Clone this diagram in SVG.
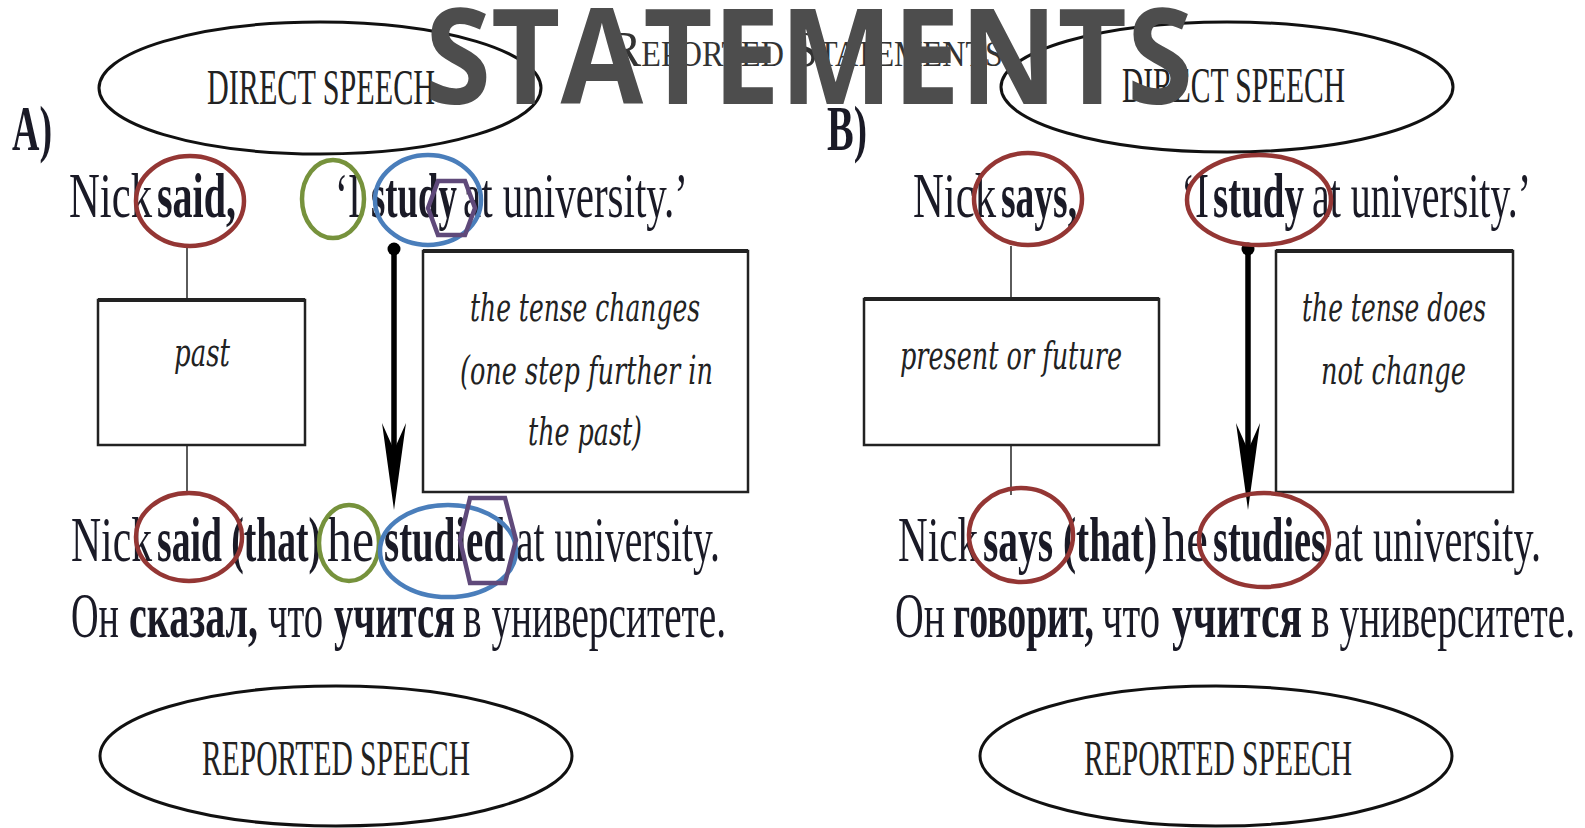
<svg xmlns="http://www.w3.org/2000/svg" width="1585" height="828" viewBox="0 0 1585 828">
<style>
.s{font-family:"Liberation Serif","Times New Roman",serif;fill:#1a1a26;font-size:64px}
.b{font-weight:bold}
.it{font-family:"DejaVu Serif","Liberation Serif",serif;font-style:italic;fill:#222;font-size:40px}
.cap{font-family:"Liberation Serif","Times New Roman",serif;fill:#222;font-size:50px}
.ell{fill:none;stroke:#111;stroke-width:3}
.box{fill:#fff;stroke:#222;stroke-width:2.5}
.red{fill:none;stroke:#943634;stroke-width:4.5}
.grn{fill:none;stroke:#76923c;stroke-width:4.5}
.blu{fill:none;stroke:#4a7ebb;stroke-width:4.5}
.pur{fill:none;stroke:#5f497a;stroke-width:4.5}
.thin{stroke:#333;stroke-width:1.6;fill:none}
.thick{stroke:#000;stroke-width:5.5;fill:none}
</style>
<rect width="1585" height="828" fill="#fff"/>

<g id="connectors">
  <line class="thin" x1="187" y1="247" x2="187" y2="495"/>
  <path d="M187,314 L194,329 L187,344 L180,329 Z" fill="#000"/>
  <path d="M187,410 L194,425 L187,440 L180,425 Z" fill="#000"/>
  <line class="thin" x1="1011" y1="246" x2="1011" y2="495"/>
  <path d="M1011,308 L1018,323 L1011,338 L1004,323 Z" fill="#000"/>
  <path d="M1011,377 L1018,392 L1011,407 L1004,392 Z" fill="#000"/>
  <line class="thick" x1="394" y1="248" x2="394" y2="480"/>
  <circle cx="394" cy="249" r="6.5" fill="#000"/>
  <path d="M382,423 L394,510 L406,423 L394,450 Z" fill="#000"/>
  <line class="thick" x1="1248" y1="248" x2="1248" y2="480"/>
  <circle cx="1248" cy="249" r="6.5" fill="#000"/>
  <path d="M1236,423 L1248,510 L1260,423 L1248,450 Z" fill="#000"/>
</g>

<g id="ellipse-direct-a">
  <ellipse class="ell" cx="320" cy="88" rx="221" ry="66"/>
  <text class="cap" x="207" y="104" textLength="228" lengthAdjust="spacingAndGlyphs">DIRECT SPEECH</text>
</g>
<g id="ellipse-direct-b">
  <ellipse class="ell" cx="1227" cy="87" rx="226" ry="65"/>
  <text class="cap" x="1122" y="102" textLength="223" lengthAdjust="spacingAndGlyphs">DIRECT SPEECH</text>
</g>
<g id="subtitle">
  <text x="610" y="66" font-family="Liberation Serif, serif" fill="#333" font-size="35" textLength="393" lengthAdjust="spacingAndGlyphs"><tspan font-size="51">R</tspan>EPORTED <tspan font-size="51">S</tspan>TATEMENTS</text>
</g>
<g id="labels">
  <text class="s b" x="12" y="150" font-size="58" textLength="40" lengthAdjust="spacingAndGlyphs">A)</text>
  <text class="s b" x="827" y="150" font-size="58" textLength="40" lengthAdjust="spacingAndGlyphs">B)</text>
</g>

<g id="sentence-a-direct">
  <text class="s" x="69" y="217" textLength="83" lengthAdjust="spacingAndGlyphs">Nick</text>
  <text class="s b" x="157" y="217" textLength="79" lengthAdjust="spacingAndGlyphs">said,</text>
  <text class="s" x="335" y="217" textLength="26" lengthAdjust="spacingAndGlyphs">‘I</text>
  <text class="s b" x="371" y="217" textLength="86" lengthAdjust="spacingAndGlyphs">study</text>
  <text class="s" x="463" y="217" textLength="225" lengthAdjust="spacingAndGlyphs">at university.’</text>
</g>
<g id="box-past">
  <rect class="box" x="98" y="300" width="207" height="145"/>
  <line x1="98" y1="300" x2="305" y2="300" stroke="#222" stroke-width="4"/>
  <text class="it" x="174" y="366" textLength="56" lengthAdjust="spacingAndGlyphs">past</text>
</g>
<g id="box-tense-changes">
  <rect class="box" x="423" y="251" width="325" height="241"/>
  <line x1="423" y1="251" x2="748" y2="251" stroke="#222" stroke-width="4"/>
  <text class="it" x="470" y="321" textLength="230" lengthAdjust="spacingAndGlyphs">the tense changes</text>
  <text class="it" x="460" y="384" textLength="253" lengthAdjust="spacingAndGlyphs">(one step further in</text>
  <text class="it" x="528" y="445" textLength="114" lengthAdjust="spacingAndGlyphs">the past)</text>
</g>
<g id="sentence-a-reported">
  <text class="s" x="71" y="561" textLength="81" lengthAdjust="spacingAndGlyphs">Nick</text>
  <text class="s b" x="157" y="561" textLength="164" lengthAdjust="spacingAndGlyphs">said (that)</text>
  <text class="s" x="327" y="561" textLength="47" lengthAdjust="spacingAndGlyphs">he</text>
  <text class="s b" x="384" y="561" textLength="121" lengthAdjust="spacingAndGlyphs">studied</text>
  <text class="s" x="516" y="561" textLength="204" lengthAdjust="spacingAndGlyphs">at university.</text>
</g>
<g id="sentence-a-russian">
  <text class="s" x="71" y="637" textLength="48" lengthAdjust="spacingAndGlyphs">Он</text>
  <text class="s b" x="129" y="637" textLength="129" lengthAdjust="spacingAndGlyphs">сказал,</text>
  <text class="s" x="268" y="637" textLength="55" lengthAdjust="spacingAndGlyphs">что</text>
  <text class="s b" x="334" y="637" textLength="121" lengthAdjust="spacingAndGlyphs">учится</text>
  <text class="s" x="463" y="637" textLength="263" lengthAdjust="spacingAndGlyphs">в университете.</text>
</g>
<g id="ellipse-reported-a">
  <ellipse class="ell" cx="336" cy="756" rx="236" ry="70"/>
  <text class="cap" x="202" y="775" textLength="268" lengthAdjust="spacingAndGlyphs">REPORTED SPEECH</text>
</g>

<g id="sentence-b-direct">
  <text class="s" x="913" y="217" textLength="83" lengthAdjust="spacingAndGlyphs">Nick</text>
  <text class="s b" x="1001" y="217" textLength="76" lengthAdjust="spacingAndGlyphs">says,</text>
  <text class="s" x="1181" y="217" textLength="28" lengthAdjust="spacingAndGlyphs">‘I</text>
  <text class="s b" x="1213" y="217" textLength="91" lengthAdjust="spacingAndGlyphs">study</text>
  <text class="s" x="1312" y="217" textLength="219" lengthAdjust="spacingAndGlyphs">at university.’</text>
</g>
<g id="box-present-future">
  <rect class="box" x="864" y="299" width="295" height="146"/>
  <line x1="864" y1="299" x2="1159" y2="299" stroke="#222" stroke-width="4"/>
  <text class="it" x="900" y="369" textLength="222" lengthAdjust="spacingAndGlyphs">present or future</text>
</g>
<g id="box-tense-not-change">
  <rect class="box" x="1276" y="251" width="237" height="241"/>
  <line x1="1276" y1="251" x2="1513" y2="251" stroke="#222" stroke-width="4"/>
  <text class="it" x="1302" y="321" textLength="184" lengthAdjust="spacingAndGlyphs">the tense does</text>
  <text class="it" x="1321" y="384" textLength="145" lengthAdjust="spacingAndGlyphs">not change</text>
</g>
<g id="sentence-b-reported">
  <text class="s" x="898" y="561" textLength="80" lengthAdjust="spacingAndGlyphs">Nick</text>
  <text class="s b" x="983" y="561" textLength="174" lengthAdjust="spacingAndGlyphs">says (that)</text>
  <text class="s" x="1162" y="561" textLength="46" lengthAdjust="spacingAndGlyphs">he</text>
  <text class="s b" x="1213" y="561" textLength="113" lengthAdjust="spacingAndGlyphs">studies</text>
  <text class="s" x="1334" y="561" textLength="207" lengthAdjust="spacingAndGlyphs">at university.</text>
</g>
<g id="sentence-b-russian">
  <text class="s" x="895" y="637" textLength="50" lengthAdjust="spacingAndGlyphs">Он</text>
  <text class="s b" x="953" y="637" textLength="141" lengthAdjust="spacingAndGlyphs">говорит,</text>
  <text class="s" x="1102" y="637" textLength="58" lengthAdjust="spacingAndGlyphs">что</text>
  <text class="s b" x="1172" y="637" textLength="130" lengthAdjust="spacingAndGlyphs">учится</text>
  <text class="s" x="1311" y="637" textLength="264" lengthAdjust="spacingAndGlyphs">в университете.</text>
</g>
<g id="ellipse-reported-b">
  <ellipse class="ell" cx="1216" cy="756" rx="236" ry="70"/>
  <text class="cap" x="1084" y="775" textLength="268" lengthAdjust="spacingAndGlyphs">REPORTED SPEECH</text>
</g>

<g id="highlights">
  <ellipse class="red" cx="190" cy="201" rx="54" ry="45"/>
  <ellipse class="grn" cx="333" cy="199" rx="31" ry="39"/>
  <ellipse class="blu" cx="428" cy="200" rx="53" ry="45"/>
  <polygon class="pur" points="428,208 438,181 465,181 475,208 465,235 438,235"/>
  <ellipse class="red" cx="189" cy="537" rx="53" ry="44"/>
  <ellipse class="grn" cx="349" cy="543" rx="30" ry="38"/>
  <ellipse class="blu" cx="448" cy="551" rx="68" ry="46"/>
  <polygon class="pur" points="460,540 470,498 505,498 516,540 505,583 470,583"/>
  <ellipse class="red" cx="1028" cy="199" rx="54" ry="46"/>
  <ellipse class="red" cx="1259" cy="200" rx="72" ry="45"/>
  <ellipse class="red" cx="1021" cy="535" rx="52" ry="47"/>
  <ellipse class="red" cx="1264" cy="540" rx="65" ry="47"/>
</g>

<g id="title">
  <text x="425" y="104" font-family="'Open Sans','Liberation Sans',sans-serif" font-weight="bold" font-size="132" fill="#4d4d4d" textLength="768" lengthAdjust="spacingAndGlyphs">STATEMENTS</text>
</g>
</svg>
